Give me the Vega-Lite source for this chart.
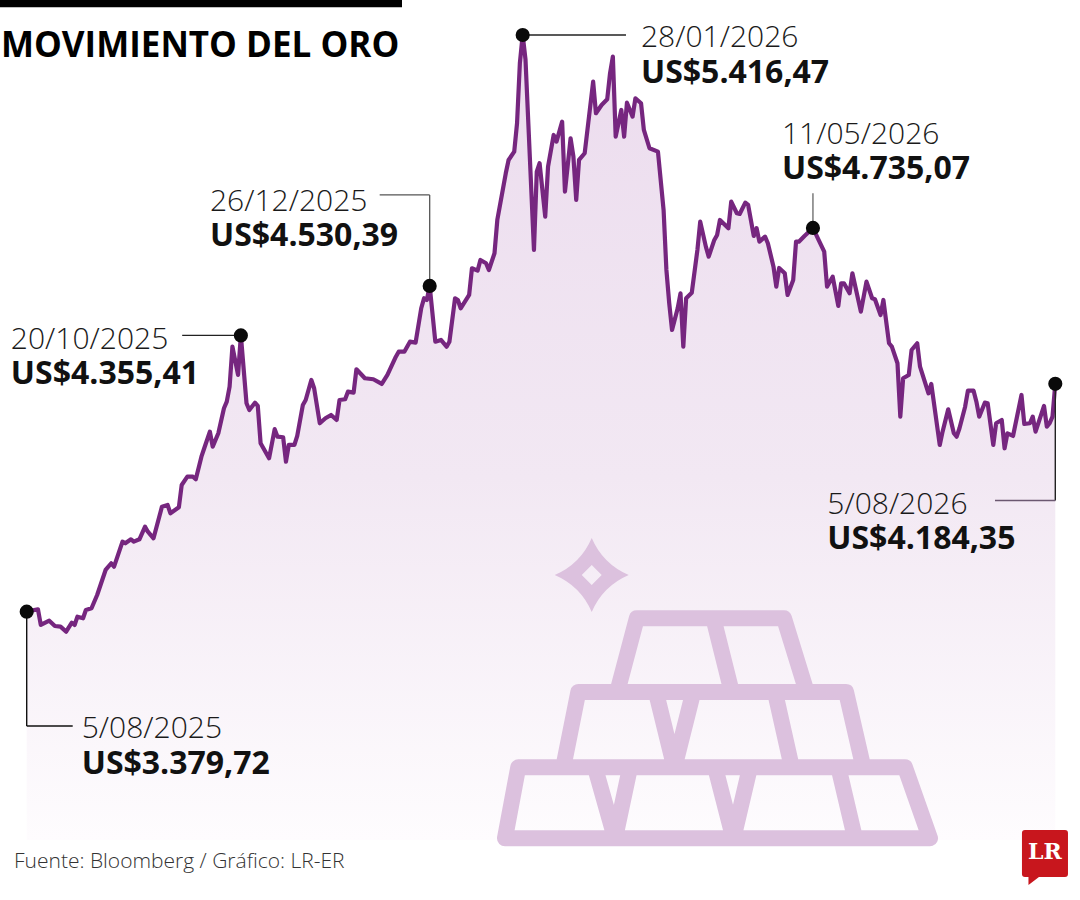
{
  "$schema": "https://vega.github.io/schema/vega-lite/v6.json",
  "autosize": {"type": "none"},
  "width": 1028.6,
  "height": 805,
  "padding": {"left": 26.7, "top": 35, "right": 24.7, "bottom": 60},
  "background": "#ffffff",
  "config": {"view": {"stroke": null}, "font": "Open Sans"},
  "datasets": {
    "oro": [
      {"fecha": "2025-08-05", "precio": 3379.72},
      {"fecha": "2025-08-09", "precio": 3388.2},
      {"fecha": "2025-08-10", "precio": 3332.7},
      {"fecha": "2025-08-13", "precio": 3347.9},
      {"fecha": "2025-08-15", "precio": 3329.2},
      {"fecha": "2025-08-17", "precio": 3326.7},
      {"fecha": "2025-08-19", "precio": 3309.1},
      {"fecha": "2025-08-21", "precio": 3340.9},
      {"fecha": "2025-08-22", "precio": 3332.7},
      {"fecha": "2025-08-23", "precio": 3362.1},
      {"fecha": "2025-08-25", "precio": 3356.4},
      {"fecha": "2025-08-26", "precio": 3385.7},
      {"fecha": "2025-08-28", "precio": 3391.7},
      {"fecha": "2025-08-30", "precio": 3438.7},
      {"fecha": "2025-09-02", "precio": 3527.0},
      {"fecha": "2025-09-04", "precio": 3550.7},
      {"fecha": "2025-09-05", "precio": 3538.7},
      {"fecha": "2025-09-08", "precio": 3627.0},
      {"fecha": "2025-09-09", "precio": 3621.3},
      {"fecha": "2025-09-11", "precio": 3635.4},
      {"fecha": "2025-09-12", "precio": 3627.0},
      {"fecha": "2025-09-14", "precio": 3635.4},
      {"fecha": "2025-09-16", "precio": 3679.9},
      {"fecha": "2025-09-17", "precio": 3662.3},
      {"fecha": "2025-09-19", "precio": 3639.0},
      {"fecha": "2025-09-22", "precio": 3750.6},
      {"fecha": "2025-09-24", "precio": 3756.6},
      {"fecha": "2025-09-25", "precio": 3727.3},
      {"fecha": "2025-09-28", "precio": 3748.5},
      {"fecha": "2025-09-29", "precio": 3827.2},
      {"fecha": "2025-10-01", "precio": 3856.5},
      {"fecha": "2025-10-03", "precio": 3856.5},
      {"fecha": "2025-10-04", "precio": 3847.4},
      {"fecha": "2025-10-06", "precio": 3927.2},
      {"fecha": "2025-10-07", "precio": 3956.8},
      {"fecha": "2025-10-09", "precio": 4015.5},
      {"fecha": "2025-10-10", "precio": 3962.5},
      {"fecha": "2025-10-12", "precio": 4009.8},
      {"fecha": "2025-10-14", "precio": 4098.1},
      {"fecha": "2025-10-15", "precio": 4121.4},
      {"fecha": "2025-10-16", "precio": 4174.4},
      {"fecha": "2025-10-17", "precio": 4315.7},
      {"fecha": "2025-10-19", "precio": 4215.8},
      {"fecha": "2025-10-20", "precio": 4355.41},
      {"fecha": "2025-10-22", "precio": 4115.8},
      {"fecha": "2025-10-23", "precio": 4092.1},
      {"fecha": "2025-10-25", "precio": 4117.9},
      {"fecha": "2025-10-26", "precio": 4106.3},
      {"fecha": "2025-10-27", "precio": 3974.5},
      {"fecha": "2025-10-29", "precio": 3939.2},
      {"fecha": "2025-10-30", "precio": 3921.5},
      {"fecha": "2025-11-01", "precio": 4024.3},
      {"fecha": "2025-11-02", "precio": 3997.8},
      {"fecha": "2025-11-04", "precio": 3995.7},
      {"fecha": "2025-11-05", "precio": 3909.5},
      {"fecha": "2025-11-06", "precio": 3968.5},
      {"fecha": "2025-11-08", "precio": 3968.5},
      {"fecha": "2025-11-09", "precio": 4000.3},
      {"fecha": "2025-11-11", "precio": 4109.8},
      {"fecha": "2025-11-12", "precio": 4127.4},
      {"fecha": "2025-11-14", "precio": 4198.1},
      {"fecha": "2025-11-15", "precio": 4168.8},
      {"fecha": "2025-11-17", "precio": 4045.1},
      {"fecha": "2025-11-19", "precio": 4062.8},
      {"fecha": "2025-11-21", "precio": 4074.5},
      {"fecha": "2025-11-23", "precio": 4056.8},
      {"fecha": "2025-11-24", "precio": 4127.4},
      {"fecha": "2025-11-26", "precio": 4129.9},
      {"fecha": "2025-11-27", "precio": 4156.8},
      {"fecha": "2025-11-29", "precio": 4153.2},
      {"fecha": "2025-11-30", "precio": 4235.9},
      {"fecha": "2025-12-03", "precio": 4204.1},
      {"fecha": "2025-12-06", "precio": 4200.6},
      {"fecha": "2025-12-09", "precio": 4184.0},
      {"fecha": "2025-12-11", "precio": 4215.8},
      {"fecha": "2025-12-14", "precio": 4280.4},
      {"fecha": "2025-12-15", "precio": 4298.0},
      {"fecha": "2025-12-17", "precio": 4298.0},
      {"fecha": "2025-12-19", "precio": 4333.4},
      {"fecha": "2025-12-21", "precio": 4329.8},
      {"fecha": "2025-12-23", "precio": 4451.3},
      {"fecha": "2025-12-24", "precio": 4486.7},
      {"fecha": "2025-12-25", "precio": 4480.6},
      {"fecha": "2025-12-26", "precio": 4530.39},
      {"fecha": "2025-12-28", "precio": 4333.4},
      {"fecha": "2025-12-30", "precio": 4339.4},
      {"fecha": "2026-01-01", "precio": 4315.7},
      {"fecha": "2026-01-02", "precio": 4333.4},
      {"fecha": "2026-01-04", "precio": 4486.7},
      {"fecha": "2026-01-05", "precio": 4480.6},
      {"fecha": "2026-01-06", "precio": 4451.3},
      {"fecha": "2026-01-09", "precio": 4498.3},
      {"fecha": "2026-01-10", "precio": 4592.6},
      {"fecha": "2026-01-12", "precio": 4584.1},
      {"fecha": "2026-01-13", "precio": 4621.9},
      {"fecha": "2026-01-15", "precio": 4610.3},
      {"fecha": "2026-01-16", "precio": 4586.6},
      {"fecha": "2026-01-18", "precio": 4645.6},
      {"fecha": "2026-01-19", "precio": 4763.2},
      {"fecha": "2026-01-22", "precio": 4928.1},
      {"fecha": "2026-01-23", "precio": 4975.1},
      {"fecha": "2026-01-25", "precio": 5004.4},
      {"fecha": "2026-01-26", "precio": 5104.7},
      {"fecha": "2026-01-27", "precio": 5316.7},
      {"fecha": "2026-01-28", "precio": 5416.47},
      {"fecha": "2026-01-29", "precio": 5330.0},
      {"fecha": "2026-02-01", "precio": 4657.2},
      {"fecha": "2026-02-02", "precio": 4933.8},
      {"fecha": "2026-02-03", "precio": 4963.5},
      {"fecha": "2026-02-05", "precio": 4774.9},
      {"fecha": "2026-02-06", "precio": 4951.5},
      {"fecha": "2026-02-08", "precio": 5063.4},
      {"fecha": "2026-02-09", "precio": 5039.8},
      {"fecha": "2026-02-11", "precio": 5110.4},
      {"fecha": "2026-02-12", "precio": 4863.2},
      {"fecha": "2026-02-14", "precio": 5051.8},
      {"fecha": "2026-02-15", "precio": 4986.8},
      {"fecha": "2026-02-16", "precio": 4833.8},
      {"fecha": "2026-02-17", "precio": 4975.1},
      {"fecha": "2026-02-19", "precio": 4998.8},
      {"fecha": "2026-02-22", "precio": 5251.7},
      {"fecha": "2026-02-23", "precio": 5140.1},
      {"fecha": "2026-02-25", "precio": 5169.4},
      {"fecha": "2026-02-27", "precio": 5189.5},
      {"fecha": "2026-02-28", "precio": 5281.3},
      {"fecha": "2026-03-01", "precio": 5340.0},
      {"fecha": "2026-03-02", "precio": 5057.4},
      {"fecha": "2026-03-04", "precio": 5151.7},
      {"fecha": "2026-03-05", "precio": 5057.4},
      {"fecha": "2026-03-06", "precio": 5177.5},
      {"fecha": "2026-03-08", "precio": 5128.1},
      {"fecha": "2026-03-09", "precio": 5193.1},
      {"fecha": "2026-03-11", "precio": 5175.4},
      {"fecha": "2026-03-12", "precio": 5081.1},
      {"fecha": "2026-03-14", "precio": 5016.5},
      {"fecha": "2026-03-17", "precio": 5004.4},
      {"fecha": "2026-03-19", "precio": 4798.5},
      {"fecha": "2026-03-20", "precio": 4586.6},
      {"fecha": "2026-03-21", "precio": 4469.0},
      {"fecha": "2026-03-22", "precio": 4374.7},
      {"fecha": "2026-03-24", "precio": 4451.3},
      {"fecha": "2026-03-25", "precio": 4504.3},
      {"fecha": "2026-03-26", "precio": 4315.7},
      {"fecha": "2026-03-27", "precio": 4486.7},
      {"fecha": "2026-03-29", "precio": 4506.4},
      {"fecha": "2026-03-31", "precio": 4657.2},
      {"fecha": "2026-04-01", "precio": 4757.2},
      {"fecha": "2026-04-03", "precio": 4668.9},
      {"fecha": "2026-04-04", "precio": 4633.6},
      {"fecha": "2026-04-06", "precio": 4692.6},
      {"fecha": "2026-04-07", "precio": 4710.2},
      {"fecha": "2026-04-08", "precio": 4763.2},
      {"fecha": "2026-04-11", "precio": 4733.9},
      {"fecha": "2026-04-12", "precio": 4827.8},
      {"fecha": "2026-04-14", "precio": 4786.9},
      {"fecha": "2026-04-15", "precio": 4784.4},
      {"fecha": "2026-04-17", "precio": 4824.3},
      {"fecha": "2026-04-18", "precio": 4816.2},
      {"fecha": "2026-04-20", "precio": 4706.7},
      {"fecha": "2026-04-21", "precio": 4733.9},
      {"fecha": "2026-04-22", "precio": 4686.6},
      {"fecha": "2026-04-24", "precio": 4704.2},
      {"fecha": "2026-04-25", "precio": 4680.9},
      {"fecha": "2026-04-27", "precio": 4598.3},
      {"fecha": "2026-04-28", "precio": 4527.6},
      {"fecha": "2026-04-29", "precio": 4593.7},
      {"fecha": "2026-05-01", "precio": 4574.9},
      {"fecha": "2026-05-02", "precio": 4498.3},
      {"fecha": "2026-05-04", "precio": 4551.3},
      {"fecha": "2026-05-05", "precio": 4686.6},
      {"fecha": "2026-05-06", "precio": 4686.6},
      {"fecha": "2026-05-08", "precio": 4706.7},
      {"fecha": "2026-05-11", "precio": 4735.07},
      {"fecha": "2026-05-13", "precio": 4692.6},
      {"fecha": "2026-05-15", "precio": 4651.2},
      {"fecha": "2026-05-16", "precio": 4527.6},
      {"fecha": "2026-05-18", "precio": 4562.9},
      {"fecha": "2026-05-20", "precio": 4459.5},
      {"fecha": "2026-05-21", "precio": 4539.6},
      {"fecha": "2026-05-22", "precio": 4539.6},
      {"fecha": "2026-05-24", "precio": 4504.3},
      {"fecha": "2026-05-25", "precio": 4574.9},
      {"fecha": "2026-05-28", "precio": 4439.3},
      {"fecha": "2026-05-30", "precio": 4545.3},
      {"fecha": "2026-06-01", "precio": 4486.7},
      {"fecha": "2026-06-02", "precio": 4483.1},
      {"fecha": "2026-06-04", "precio": 4427.6},
      {"fecha": "2026-06-05", "precio": 4480.6},
      {"fecha": "2026-06-07", "precio": 4327.7},
      {"fecha": "2026-06-08", "precio": 4315.7},
      {"fecha": "2026-06-10", "precio": 4257.1},
      {"fecha": "2026-06-11", "precio": 4068.5},
      {"fecha": "2026-06-12", "precio": 4204.1},
      {"fecha": "2026-06-14", "precio": 4215.8},
      {"fecha": "2026-06-15", "precio": 4304.0},
      {"fecha": "2026-06-17", "precio": 4327.7},
      {"fecha": "2026-06-18", "precio": 4245.1},
      {"fecha": "2026-06-21", "precio": 4151.1},
      {"fecha": "2026-06-22", "precio": 4184.0},
      {"fecha": "2026-06-25", "precio": 3968.5},
      {"fecha": "2026-06-26", "precio": 4015.5},
      {"fecha": "2026-06-28", "precio": 4094.6},
      {"fecha": "2026-06-30", "precio": 4009.8},
      {"fecha": "2026-07-01", "precio": 3997.8},
      {"fecha": "2026-07-02", "precio": 4027.5},
      {"fecha": "2026-07-04", "precio": 4103.8},
      {"fecha": "2026-07-05", "precio": 4160.3},
      {"fecha": "2026-07-07", "precio": 4160.3},
      {"fecha": "2026-07-08", "precio": 4121.4},
      {"fecha": "2026-07-09", "precio": 4068.5},
      {"fecha": "2026-07-11", "precio": 4117.9},
      {"fecha": "2026-07-12", "precio": 4115.8},
      {"fecha": "2026-07-14", "precio": 3968.5},
      {"fecha": "2026-07-15", "precio": 4045.1},
      {"fecha": "2026-07-17", "precio": 4056.8},
      {"fecha": "2026-07-18", "precio": 3956.8},
      {"fecha": "2026-07-19", "precio": 4009.8},
      {"fecha": "2026-07-21", "precio": 4000.3},
      {"fecha": "2026-07-24", "precio": 4145.1},
      {"fecha": "2026-07-25", "precio": 4042.7},
      {"fecha": "2026-07-27", "precio": 4045.1},
      {"fecha": "2026-07-28", "precio": 4068.5},
      {"fecha": "2026-07-29", "precio": 4015.5},
      {"fecha": "2026-08-01", "precio": 4106.3},
      {"fecha": "2026-08-02", "precio": 4033.1},
      {"fecha": "2026-08-03", "precio": 4045.1},
      {"fecha": "2026-08-04", "precio": 4068.5},
      {"fecha": "2026-08-05", "precio": 4184.35}
    ],
    "notas": [
      {"id": "a", "fecha": "2025-08-05", "precio": 3379.72, "dia": "5/08/2025", "valor": "US$3.379,72"},
      {"id": "b", "fecha": "2025-10-20", "precio": 4355.41, "dia": "20/10/2025", "valor": "US$4.355,41"},
      {"id": "c", "fecha": "2025-12-26", "precio": 4530.39, "dia": "26/12/2025", "valor": "US$4.530,39"},
      {"id": "d", "fecha": "2026-01-28", "precio": 5416.47, "dia": "28/01/2026", "valor": "US$5.416,47"},
      {"id": "e", "fecha": "2026-05-11", "precio": 4735.07, "dia": "11/05/2026", "valor": "US$4.735,07"},
      {"id": "f", "fecha": "2026-08-05", "precio": 4184.35, "dia": "5/08/2026", "valor": "US$4.184,35"}
    ]
  },
  "layer": [
    {
      "encoding": {
        "x": {
          "field": "fecha",
          "type": "temporal",
          "scale": {
            "type": "utc",
            "nice": false,
            "domain": [
              {"year": 2025, "month": 8, "date": 5, "utc": true},
              {"year": 2026, "month": 8, "date": 5, "utc": true}
            ]
          },
          "axis": null
        },
        "y": {
          "field": "precio",
          "type": "quantitative",
          "scale": {"domain": [2573.3, 5416.47], "nice": false, "zero": false},
          "axis": null
        }
      },
      "layer": [
        {
          "data": {"name": "oro"},
          "mark": {
            "type": "area",
            "color": {
              "gradient": "linear",
              "x1": 0, "y1": 0, "x2": 0, "y2": 1,
              "stops": [
                {"offset": 0, "color": "#ecdcee"},
                {"offset": 0.55, "color": "#f2e8f3"},
                {"offset": 1, "color": "#fefcfe"}
              ]
            }
          },
          "encoding": {"y2": {"datum": 2573.3}}
        }
      ]
    },
    {
      "layer": [
        {
          "data": {"values": [{}]},
          "mark": {
            "type": "point",
            "shape": "M-1,-0.018L1,-0.018L1,0.018L-1,0.018Z",
            "size": 161604,
            "filled": true,
            "color": "#000000",
            "opacity": 1
          },
          "encoding": {
            "x": {"datum": {"year": 2025, "month": 10, "date": 5, "hours": 20, "minutes": 24, "utc": true}, "type": "temporal", "axis": null},
            "y": {"datum": 5527.5, "type": "quantitative", "axis": null}
          }
        },
        {
          "data": {"values": [{"texto": "MOVIMIENTO DEL ORO"}]},
          "mark": {
            "type": "text",
            "font": "Open Sans",
            "fontWeight": "bold",
            "fontSize": 35,
            "color": "#000000",
            "align": "left",
            "baseline": "alphabetic",
            "dx": -25.7,
            "dy": 21.7
          },
          "encoding": {
            "x": {"datum": {"year": 2025, "month": 8, "date": 5, "utc": true}, "type": "temporal", "axis": null},
            "y": {"datum": 5416.47, "type": "quantitative", "axis": null},
            "text": {"field": "texto"}
          }
        },
        {
          "data": {"values": [{"texto": "Fuente: Bloomberg / Gráfico: LR-ER"}]},
          "mark": {
            "type": "text",
            "font": "Open Sans",
            "fontWeight": 300,
            "fontSize": 21,
            "color": "#333333",
            "align": "left",
            "baseline": "alphabetic",
            "dx": -12.7,
            "dy": 28
          },
          "encoding": {
            "x": {"datum": {"year": 2025, "month": 8, "date": 5, "utc": true}, "type": "temporal", "axis": null},
            "y": {"datum": 2573.3, "type": "quantitative", "axis": null},
            "text": {"field": "texto"}
          }
        },
        {
          "data": {"values": [{}]},
          "mark": {
            "type": "point",
            "shape": "M-0.357,-0.328L0.297,-0.328L0.398,0L-0.444,0ZM-0.017,-0.328L0.065,0M-0.617,0L0.573,0L0.65,0.335L-0.684,0.335ZM-0.272,0L-0.19,0.335L-0.106,0M0.257,0L0.332,0.335M-0.884,0.335L0.835,0.335L0.946,0.65L-0.943,0.65ZM-0.543,0.335L-0.454,0.65L-0.387,0.335M-0.009,0.335L0.072,0.65L0.146,0.335M0.539,0.335L0.613,0.65",
            "size": 202500,
            "filled": false,
            "stroke": "#dcc1de",
            "strokeWidth": 16,
            "strokeJoin": "round",
            "strokeCap": "round",
            "opacity": 1
          },
          "encoding": {
            "x": {"datum": {"year": 2026, "month": 4, "date": 7, "utc": true}, "type": "temporal", "axis": null},
            "y": {"datum": 3096.1, "type": "quantitative", "axis": null}
          }
        },
        {
          "data": {"values": [{}]},
          "mark": {
            "type": "point",
            "shape": "M0,-1Q0.3,-0.3,1,0Q0.3,0.3,0,1Q-0.3,0.3,-1,0Q-0.3,-0.3,0,-1ZM0,-0.27L-0.27,0L0,0.27L0.27,0Z",
            "size": 5476,
            "filled": true,
            "color": "#dcc1de",
            "opacity": 1
          },
          "encoding": {
            "x": {"datum": {"year": 2026, "month": 2, "date": 21, "hours": 12, "utc": true}, "type": "temporal", "axis": null},
            "y": {"datum": 3509.3, "type": "quantitative", "axis": null}
          }
        },
        {
          "data": {"values": [{}]},
          "mark": {
            "type": "point",
            "shape": "M-0.767,-0.733Q-0.767,-0.833,-0.667,-0.833L0.667,-0.833Q0.767,-0.833,0.767,-0.733L0.767,0.633Q0.767,0.733,0.667,0.733L-0.2,0.733L-0.55,1L-0.55,0.733L-0.667,0.733Q-0.767,0.733,-0.767,0.633Z",
            "size": 3600,
            "filled": true,
            "color": "#c8161d",
            "opacity": 1
          },
          "encoding": {
            "x": {"datum": {"year": 2026, "month": 8, "date": 1, "hours": 8, "utc": true}, "type": "temporal", "axis": null},
            "y": {"datum": 2520.4, "type": "quantitative", "axis": null}
          }
        },
        {
          "data": {"values": [{"marca": "LR"}]},
          "mark": {
            "type": "text",
            "font": "DejaVu Serif",
            "fontWeight": "bold",
            "fontSize": 22,
            "color": "#ffffff",
            "align": "center",
            "baseline": "middle",
            "dy": -3
          },
          "encoding": {
            "x": {"datum": {"year": 2026, "month": 8, "date": 1, "hours": 8, "utc": true}, "type": "temporal", "axis": null},
            "y": {"datum": 2520.4, "type": "quantitative", "axis": null},
            "text": {"field": "marca"}
          }
        }
      ]
    },
    {
      "encoding": {
        "x": {"field": "fecha", "type": "temporal", "axis": null},
        "y": {"field": "precio", "type": "quantitative", "axis": null}
      },
      "layer": [
        {
          "data": {"name": "oro"},
          "mark": {"type": "line", "color": "#76267f", "strokeWidth": 4.2, "strokeJoin": "round"}
        },
        {
          "data": {"name": "notas"},
          "transform": [{"filter": "datum.id == 'a'"}],
          "mark": {"type": "rule", "color": "#111111", "strokeWidth": 1.4, "y2Offset": 114.3},
          "encoding": {"y2": {"field": "precio"}}
        },
        {
          "data": {"name": "notas"},
          "transform": [{"filter": "datum.id == 'a'"}],
          "mark": {"type": "rule", "color": "#111111", "strokeWidth": 1.4, "yOffset": 114.3, "x2Offset": 46},
          "encoding": {"x2": {"field": "fecha"}}
        },
        {
          "data": {"name": "notas"},
          "transform": [{"filter": "datum.id == 'b'"}],
          "mark": {"type": "rule", "color": "#222222", "strokeWidth": 1.3, "x2Offset": -58.7},
          "encoding": {"x2": {"field": "fecha"}}
        },
        {
          "data": {"name": "notas"},
          "transform": [{"filter": "datum.id == 'c'"}],
          "mark": {"type": "rule", "color": "#555555", "strokeWidth": 1.3, "y2Offset": -91},
          "encoding": {"y2": {"field": "precio"}}
        },
        {
          "data": {"name": "notas"},
          "transform": [{"filter": "datum.id == 'c'"}],
          "mark": {"type": "rule", "color": "#555555", "strokeWidth": 1.3, "yOffset": -91, "x2Offset": -50},
          "encoding": {"x2": {"field": "fecha"}}
        },
        {
          "data": {"name": "notas"},
          "transform": [{"filter": "datum.id == 'd'"}],
          "mark": {"type": "rule", "color": "#222222", "strokeWidth": 1.3, "x2Offset": 103.3},
          "encoding": {"x2": {"field": "fecha"}}
        },
        {
          "data": {"name": "notas"},
          "transform": [{"filter": "datum.id == 'e'"}],
          "mark": {"type": "rule", "color": "#666666", "strokeWidth": 1.3, "y2Offset": -34.7},
          "encoding": {"y2": {"field": "precio"}}
        },
        {
          "data": {"name": "notas"},
          "transform": [{"filter": "datum.id == 'f'"}],
          "mark": {"type": "rule", "color": "#222222", "strokeWidth": 1.4, "y2Offset": 116.7},
          "encoding": {"y2": {"field": "precio"}}
        },
        {
          "data": {"name": "notas"},
          "transform": [{"filter": "datum.id == 'f'"}],
          "mark": {"type": "rule", "color": "#6b5870", "strokeWidth": 1.4, "yOffset": 116.7, "x2Offset": -60.3},
          "encoding": {"x2": {"field": "fecha"}}
        },
        {
          "data": {"name": "notas"},
          "mark": {"type": "point", "filled": true, "color": "#0a0a0a", "size": 200, "opacity": 1}
        },
        {
          "data": {"name": "notas"},
          "transform": [{"filter": "datum.id == 'a'"}],
          "mark": {"type": "text", "align": "left", "baseline": "alphabetic", "dx": 55, "dy": 126.6, "font": "Open Sans", "fontSize": 30, "fontWeight": 300, "color": "#1a1a1a"},
          "encoding": {"text": {"field": "dia"}}
        },
        {
          "data": {"name": "notas"},
          "transform": [{"filter": "datum.id == 'a'"}],
          "mark": {"type": "text", "align": "left", "baseline": "alphabetic", "dx": 55, "dy": 162.3, "font": "Open Sans", "fontSize": 32, "fontWeight": "bold", "color": "#111111"},
          "encoding": {"text": {"field": "valor"}}
        },
        {
          "data": {"name": "notas"},
          "transform": [{"filter": "datum.id == 'b'"}],
          "mark": {"type": "text", "align": "left", "baseline": "alphabetic", "dx": -230, "dy": 13.4, "font": "Open Sans", "fontSize": 30, "fontWeight": 300, "color": "#1a1a1a"},
          "encoding": {"text": {"field": "dia"}}
        },
        {
          "data": {"name": "notas"},
          "transform": [{"filter": "datum.id == 'b'"}],
          "mark": {"type": "text", "align": "left", "baseline": "alphabetic", "dx": -230, "dy": 48.4, "font": "Open Sans", "fontSize": 32, "fontWeight": "bold", "color": "#111111"},
          "encoding": {"text": {"field": "valor"}}
        },
        {
          "data": {"name": "notas"},
          "transform": [{"filter": "datum.id == 'c'"}],
          "mark": {"type": "text", "align": "left", "baseline": "alphabetic", "dx": -219.7, "dy": -75, "font": "Open Sans", "fontSize": 30, "fontWeight": 300, "color": "#1a1a1a"},
          "encoding": {"text": {"field": "dia"}}
        },
        {
          "data": {"name": "notas"},
          "transform": [{"filter": "datum.id == 'c'"}],
          "mark": {"type": "text", "align": "left", "baseline": "alphabetic", "dx": -219.7, "dy": -40, "font": "Open Sans", "fontSize": 32, "fontWeight": "bold", "color": "#111111"},
          "encoding": {"text": {"field": "valor"}}
        },
        {
          "data": {"name": "notas"},
          "transform": [{"filter": "datum.id == 'd'"}],
          "mark": {"type": "text", "align": "left", "baseline": "alphabetic", "dx": 118.3, "dy": 11.7, "font": "Open Sans", "fontSize": 30, "fontWeight": 300, "color": "#1a1a1a"},
          "encoding": {"text": {"field": "dia"}}
        },
        {
          "data": {"name": "notas"},
          "transform": [{"filter": "datum.id == 'd'"}],
          "mark": {"type": "text", "align": "left", "baseline": "alphabetic", "dx": 118.3, "dy": 47.7, "font": "Open Sans", "fontSize": 32, "fontWeight": "bold", "color": "#111111"},
          "encoding": {"text": {"field": "valor"}}
        },
        {
          "data": {"name": "notas"},
          "transform": [{"filter": "datum.id == 'e'"}],
          "mark": {"type": "text", "align": "left", "baseline": "alphabetic", "dx": -31, "dy": -84, "font": "Open Sans", "fontSize": 30, "fontWeight": 300, "color": "#1a1a1a"},
          "encoding": {"text": {"field": "dia"}}
        },
        {
          "data": {"name": "notas"},
          "transform": [{"filter": "datum.id == 'e'"}],
          "mark": {"type": "text", "align": "left", "baseline": "alphabetic", "dx": -31, "dy": -49, "font": "Open Sans", "fontSize": 32, "fontWeight": "bold", "color": "#111111"},
          "encoding": {"text": {"field": "valor"}}
        },
        {
          "data": {"name": "notas"},
          "transform": [{"filter": "datum.id == 'f'"}],
          "mark": {"type": "text", "align": "left", "baseline": "alphabetic", "dx": -228, "dy": 130, "font": "Open Sans", "fontSize": 30, "fontWeight": 300, "color": "#1a1a1a"},
          "encoding": {"text": {"field": "dia"}}
        },
        {
          "data": {"name": "notas"},
          "transform": [{"filter": "datum.id == 'f'"}],
          "mark": {"type": "text", "align": "left", "baseline": "alphabetic", "dx": -228, "dy": 165, "font": "Open Sans", "fontSize": 32, "fontWeight": "bold", "color": "#111111"},
          "encoding": {"text": {"field": "valor"}}
        }
      ]
    }
  ]
}
